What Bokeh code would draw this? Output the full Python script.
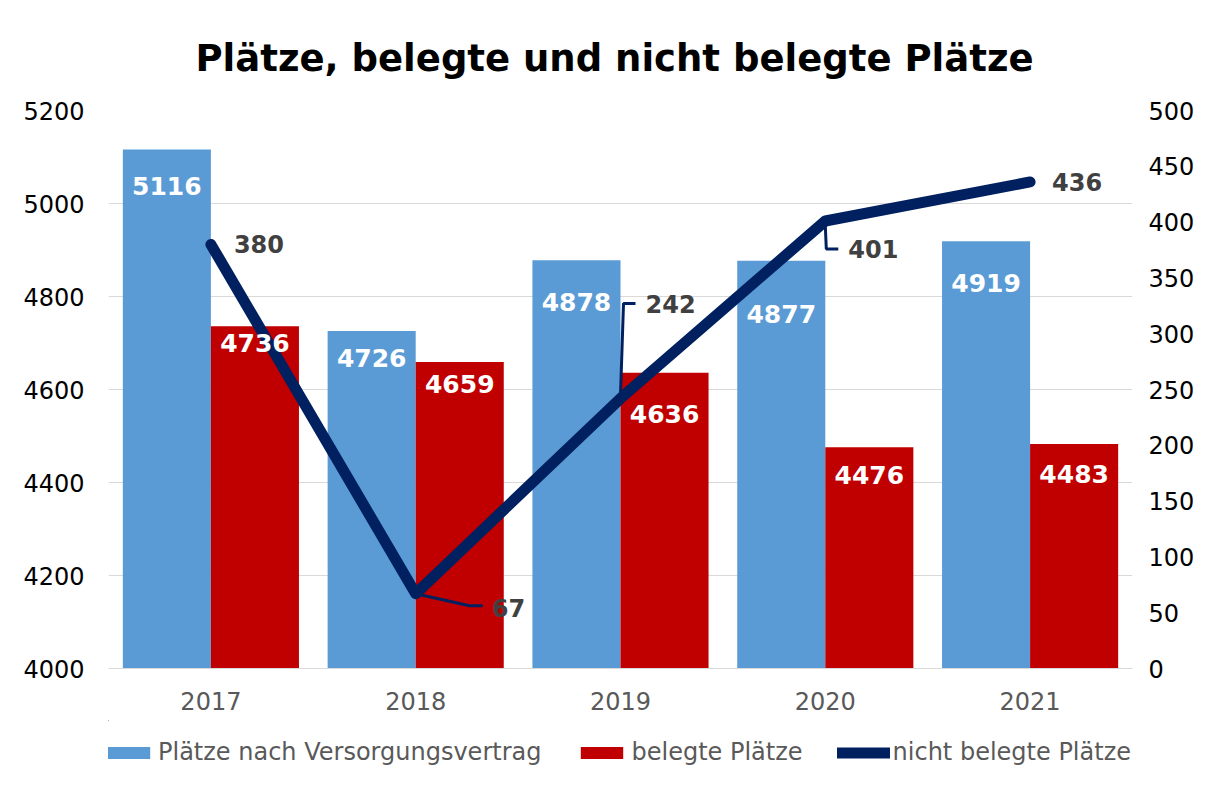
from bokeh.plotting import figure
from bokeh.layouts import column
from bokeh.models import Range1d, LinearAxis, FixedTicker, ColumnDataSource, Legend, LegendItem
from bokeh.embed import file_html
from bokeh.resources import INLINE
from bokeh.core.properties import value

# ---- data ----
years = ["2017", "2018", "2019", "2020", "2021"]
plaetze = [5116, 4726, 4878, 4877, 4919]
belegt = [4736, 4659, 4636, 4476, 4483]
nicht_belegt = [380, 67, 242, 401, 436]
left_ticks = [4000, 4200, 4400, 4600, 4800, 5000, 5200]
right_ticks = [0, 50, 100, 150, 200, 250, 300, 350, 400, 450, 500]
series_names = ["Plätze nach Versorgungsvertrag", "belegte Plätze", "nicht belegte Plätze"]

# ---- style ----
BLUE = "#5B9BD5"
RED = "#C00000"
NAVY = "#002060"
FONT = "DejaVu Sans"
W, H = 1204, 720
ML, MR, MT, MB = 108, 72, 110, 52
LEG_H = 57
bar_w = 0.43
# label offsets (pixels below bar top)
off_blue = [36, 27, 42, 53, 42]
off_red = [17, 22, 41, 28, 30]
# line-label offsets in pixels (dx right, dy down)
ll_dx = [23, 76, 25, 23, 22]
ll_dy = [0, 14, -94, 28, 0]
# leader line shapes in pixels relative to point
leaders = {1: [(0, 0), (54, 12), (67, 12)],
           2: [(0, -4), (3, -95), (15, -95)],
           3: [(0, 5), (1, 28), (13, 28)]}

xs = list(range(len(years)))
xmin, xmax = -0.5, len(years) - 0.5
px_x = (W - ML - MR) / (xmax - xmin)
px_yr = (H - MT - MB) / (right_ticks[-1] - right_ticks[0])

p = figure(width=W, height=H, x_range=Range1d(xmin, xmax),
           y_range=Range1d(left_ticks[0], left_ticks[-1]),
           output_backend="svg", toolbar_location=None,
           min_border_left=ML, min_border_right=MR,
           min_border_top=MT, min_border_bottom=MB)
p.extra_y_ranges = {"right": Range1d(right_ticks[0], right_ticks[-1])}
p.outline_line_color = None
p.background_fill_color = "white"

# title
p.title.text = "Plätze, belegte und nicht belegte Plätze"
p.title.align = "left"
p.title.text_font = FONT
p.title.text_font_size = "37px"
p.title.text_font_style = "bold"
p.title.text_color = "black"
p.title.standoff = 62
p.title.offset = 87

# grid
p.xgrid.visible = False
p.ygrid.ticker = FixedTicker(ticks=left_ticks)
p.ygrid.grid_line_color = "#D9D9D9"
p.ygrid.grid_line_width = 1

# bars
src = ColumnDataSource(dict(
    x=xs, xb=[v - bar_w / 2 for v in xs], xr=[v + bar_w / 2 for v in xs],
    plaetze=plaetze, belegt=belegt, nb=nicht_belegt,
    lp=[str(v) for v in plaetze], lb=[str(v) for v in belegt],
    ob=off_blue, orr=off_red,
))
p.vbar(x="xb", top="plaetze", bottom=left_ticks[0], width=bar_w, source=src,
       fill_color=BLUE, line_color=None)
p.vbar(x="xr", top="belegt", bottom=left_ticks[0], width=bar_w, source=src,
       fill_color=RED, line_color=None)

# leader lines
lx, ly = [], []
for i, pts in leaders.items():
    lx.append([xs[i] + dx / px_x for dx, dy in pts])
    ly.append([nicht_belegt[i] - dy / px_yr for dx, dy in pts])
p.multi_line(xs=lx, ys=ly, y_range_name="right", line_color=NAVY, line_width=3)

# line
p.line(x="x", y="nb", source=src, y_range_name="right", line_color=NAVY, line_width=11,
       line_join="round", line_cap="round")

# bar labels
p.text(x="xb", y="plaetze", text="lp", source=src, y_offset="ob",
       text_align="center", text_baseline="middle", text_color="white",
       text_font=value(FONT), text_font_size="25px", text_font_style="bold")
p.text(x="xr", y="belegt", text="lb", source=src, y_offset="orr",
       text_align="center", text_baseline="middle", text_color="white",
       text_font=value(FONT), text_font_size="25px", text_font_style="bold")

# line labels
lsrc = ColumnDataSource(dict(x=xs, y=nicht_belegt, t=[str(v) for v in nicht_belegt],
                             dx=ll_dx, dy=ll_dy))
p.text(x="x", y="y", text="t", source=lsrc, x_offset="dx", y_offset="dy",
       y_range_name="right", text_align="left", text_baseline="middle",
       text_color="#404040", text_font=value(FONT), text_font_size="24px",
       text_font_style="bold")

# axes
xa = p.xaxis[0]
xa.ticker = FixedTicker(ticks=xs)
xa.major_label_overrides = {i: y for i, y in zip(xs, years)}
xa.major_tick_line_color = None
xa.minor_tick_line_color = None
xa.axis_line_color = "#D9D9D9"
xa.axis_line_width = 1
xa.major_label_text_font = FONT
xa.major_label_text_font_size = "24px"
xa.major_label_text_color = "#595959"
xa.major_label_standoff = 17

ya = p.yaxis[0]
ya.ticker = FixedTicker(ticks=left_ticks)
ya.major_tick_line_color = None
ya.minor_tick_line_color = None
ya.axis_line_color = None
ya.major_label_text_font = FONT
ya.major_label_text_font_size = "24px"
ya.major_label_text_color = "black"
ya.major_label_standoff = 18

ra = LinearAxis(y_range_name="right", ticker=FixedTicker(ticks=right_ticks))
ra.major_tick_line_color = None
ra.minor_tick_line_color = None
ra.axis_line_color = None
ra.major_label_text_font = FONT
ra.major_label_text_font_size = "24px"
ra.major_label_text_color = "black"
ra.major_label_standoff = 10
p.add_layout(ra, "right")

# legend strip below the chart (swatch renderers sit outside its visible range)
lg = figure(width=W, height=LEG_H, x_range=Range1d(100, 100 + ML + MR),
            y_range=Range1d(-LEG_H, 0),
            output_backend="svg", toolbar_location=None,
            x_axis_location=None, y_axis_location=None,
            min_border_left=ML, min_border_right=MR, min_border_top=0, min_border_bottom=0)
lg.grid.visible = False
lg.outline_line_color = None
lb1 = lg.vbar(x="xb", top="plaetze", bottom=left_ticks[0], width=bar_w, source=src,
              fill_color=BLUE, line_color=None)
lb2 = lg.vbar(x="xr", top="belegt", bottom=left_ticks[0], width=bar_w, source=src,
              fill_color=RED, line_color=None)
ll3 = lg.line(x="x", y="nb", source=src, line_color=NAVY, line_width=11,
              line_join="round", line_cap="round")
legend = Legend(items=[
    LegendItem(label=series_names[0], renderers=[lb1]),
    LegendItem(label=series_names[1], renderers=[lb2]),
    LegendItem(label=series_names[2], renderers=[ll3]),
], orientation="horizontal", location=(-6, 11),
    glyph_width=53, glyph_height=15, label_standoff=3, spacing=34,
    label_text_font=FONT, label_text_font_size="24px", label_text_color="#595959",
    border_line_color=None, background_fill_alpha=0, padding=0, margin=0)
lg.add_layout(legend)

layout = column(p, lg, spacing=0)
open("out.html", "w").write(file_html(layout, INLINE))
